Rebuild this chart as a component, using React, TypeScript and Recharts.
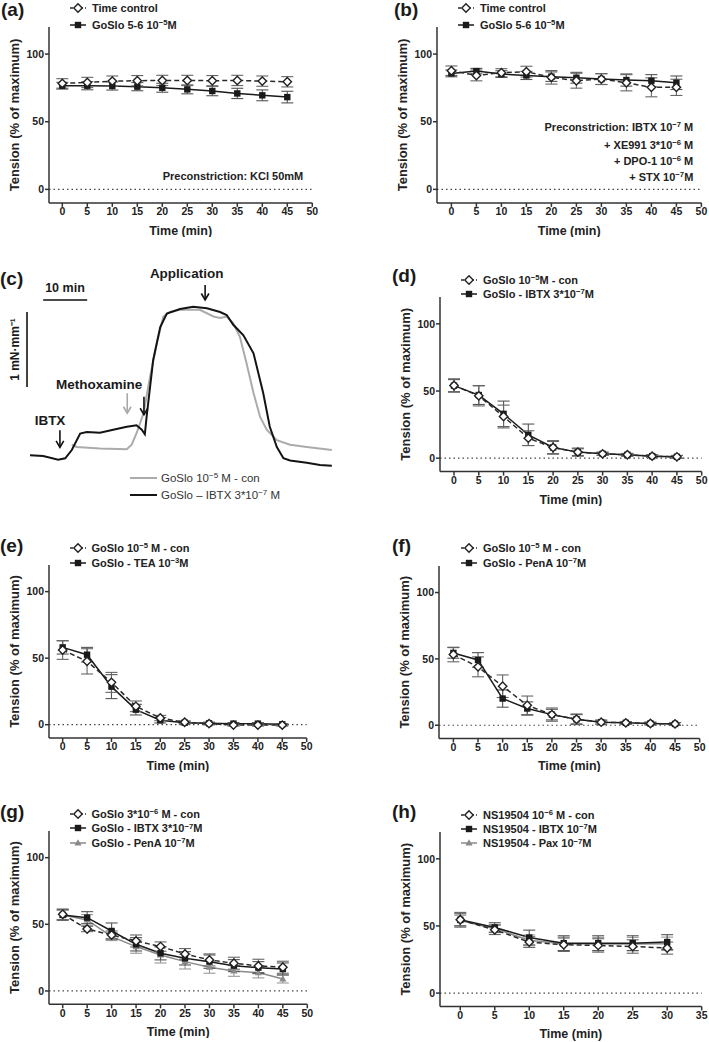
import React from "react";
import { LineChart, Line, XAxis, YAxis, ErrorBar, ReferenceLine, ReferenceDot, Legend } from "recharts";

const FONT = '"Liberation Sans", Arial, Helvetica, sans-serif';

// ---- shared axes ----
const TIME_45 = [0, 5, 10, 15, 20, 25, 30, 35, 40, 45];
const TIME_30 = [0, 5, 10, 15, 20, 25, 30];
const TICKS_50 = [0, 5, 10, 15, 20, 25, 30, 35, 40, 45, 50];
const TICKS_35 = [0, 5, 10, 15, 20, 25, 30, 35];
const Y_TICKS = [0, 50, 100];

// ---- (a) KCl preconstriction ----
const A_NAMES = ["Time control", "GoSlo 5-6 10^{−5}M"];
const A_CTRL = [78.3, 79, 80, 80.3, 80.5, 80.5, 80.3, 80.5, 80, 79.5];
const A_CTRL_SEM = [3.5, 3.8, 3.8, 3.8, 3.8, 3.8, 3.8, 3.8, 3.8, 3.8];
const A_GOSLO = [76.6, 76.6, 76.4, 75.9, 75.1, 73.9, 72.7, 70.9, 69.5, 68.2];
const A_GOSLO_SEM = [2.5, 3, 3, 3, 3.3, 3.3, 3.5, 3.8, 4, 4.3];

// ---- (b) IBTX/XE991/DPO-1/STX preconstriction ----
const B_NAMES = ["Time control", "GoSlo 5-6 10^{−5}M"];
const B_CTRL = [87.7, 84.2, 86.2, 87, 82.8, 80.3, 81.5, 78.8, 75.4, 75.4];
const B_CTRL_SEM = [3.5, 4, 3, 4, 5, 5.5, 4, 6, 7, 6];
const B_GOSLO = [85.7, 87.4, 85.2, 84.2, 83.3, 82.5, 81.5, 80.8, 80.3, 78.8];
const B_GOSLO_SEM = [2.5, 2, 2.5, 3, 3.5, 4, 4, 4.5, 4.5, 5];

// ---- (c) raw traces (min, mN/mm relative to baseline) ----
const TRACE_IBTX_T = [0, 3, 6.4, 8, 9.5, 11.4, 12.9, 15.9, 18.9, 22, 24.2, 25.4, 26.1, 26.5, 28, 29.6, 31.1, 34.1, 37.1, 40.2, 43.2, 44.7, 46.2, 48.5, 50.8, 53, 54.5, 56.1, 57.6, 59.1, 62.9, 65.9, 68.6];
const TRACE_IBTX_V = [0.03, 0.02, -0.03, -0.01, 0.1, 0.32, 0.34, 0.33, 0.37, 0.41, 0.43, 0.37, 0.31, 0.54, 1.3, 1.74, 1.92, 1.98, 2.01, 1.99, 1.94, 1.9, 1.77, 1.63, 1.39, 0.86, 0.41, 0.14, -0.01, -0.04, -0.07, -0.1, -0.11];
const TRACE_CON_T = [9.5, 10.6, 15.9, 22, 23.1, 24.2, 25.8, 27.3, 28.8, 30.3, 31.8, 34.1, 38.6, 41.7, 43.2, 44.7, 46.2, 47.7, 49.2, 50.8, 52.3, 53.8, 56.1, 59.1, 62.9, 68.6];
const TRACE_CON_V = [0.17, 0.14, 0.12, 0.11, 0.17, 0.32, 0.59, 1.08, 1.52, 1.88, 1.94, 1.97, 1.97, 1.88, 1.86, 1.88, 1.79, 1.61, 1.26, 0.86, 0.54, 0.37, 0.23, 0.17, 0.14, 0.1];
const C_NAMES = ["GoSlo 10^{−5} M - con", "GoSlo – IBTX 3*10^{−7} M"];

// ---- (d) IBTX ----
const D_NAMES = ["GoSlo 10^{−5}M - con", "GoSlo - IBTX 3*10^{−7}M"];
const D_CON = [54.1, 46.4, 31, 14.9, 7.9, 4.5, 3.2, 2.5, 1.5, 1];
const D_CON_SEM = [5, 7.5, 8.5, 5.5, 4.5, 2.5, 1.2, 1, 1, 1];
const D_IBTX = [54, 47, 33, 17.4, 8, 4.5, 3.2, 2.5, 1.5, 1];
const D_IBTX_SEM = [4.5, 7, 9.5, 8, 5, 3, 1.2, 1, 1, 1];

// ---- (e) TEA ----
const E_NAMES = ["GoSlo 10^{−5} M - con", "GoSlo - TEA 10^{−3}M"];
const E_CON = [56.1, 47.6, 31.8, 13.8, 5, 1.8, 0.8, -0.3, -0.3, -0.3];
const E_CON_SEM = [7, 9.5, 7.5, 4, 2, 1, 1, 0.8, 0.8, 0.8];
const E_TEA = [58.1, 52.6, 28.6, 11.3, 3.3, 1.5, 1, 0.8, 0.8, 0.3];
const E_TEA_SEM = [5, 5.5, 9, 4, 2, 1, 0.8, 0.8, 0.8, 0.5];

// ---- (f) PenA ----
const F_NAMES = ["GoSlo 10^{−5} M - con", "GoSlo - PenA 10^{−7}M"];
const F_CON = [53.3, 44, 29.4, 15, 8, 4.5, 2.3, 1.8, 1.3, 1];
const F_CON_SEM = [5.5, 7.5, 8.5, 7, 5, 4, 1.5, 1, 1, 1];
const F_PENA = [54.5, 49.2, 20.1, 12.6, 8, 4.5, 2.3, 1.8, 1.3, 1];
const F_PENA_SEM = [4, 5.5, 6.5, 5, 4, 3.5, 1.5, 1, 1, 1];

// ---- (g) GoSlo 3e-6 ----
const G_NAMES = ["GoSlo 3*10^{−6} M - con", "GoSlo - IBTX 3*10^{−7}M", "GoSlo - PenA 10^{−7}M"];
const G_CON = [57.5, 46.5, 42, 37.5, 33.3, 27.8, 23.3, 20.8, 18.8, 17.8];
const G_CON_SEM = [4, 2, 3, 4.5, 3.5, 4, 4.5, 4.5, 5, 4.5];
const G_IBTX = [57, 55, 45, 35, 28.3, 24.5, 22, 19, 17.5, 16.5];
const G_IBTX_SEM = [4, 4.5, 6, 5, 5, 5, 5, 4.5, 4.5, 4.5];
const G_PENA = [57, 53.3, 40.8, 33.3, 27, 22, 17.8, 15, 13.8, 9];
const G_PENA_SEM = [3.5, 4, 3, 5, 6, 5.5, 4.5, 4, 4, 3];

// ---- (h) NS19504 ----
const H_NAMES = ["NS19504 10^{−6} M - con", "NS19504 - IBTX 10^{−7}M", "NS19504 - Pax 10^{−7}M"];
const H_CON = [54.6, 47.1, 38, 36, 35.5, 34.7, 33.5];
const H_CON_SEM = [5.5, 3.5, 4, 5, 5, 5, 4.5];
const H_IBTX = [54.6, 48.9, 41.4, 37.2, 37.2, 37.2, 38];
const H_IBTX_SEM = [4.5, 3.5, 5.5, 5.5, 5.5, 5.5, 5.5];
const H_PAX = [54, 48, 39.3, 36.7, 36.5, 36.5, 36.7];
const H_PAX_SEM = [4, 3, 4, 5, 5, 5, 5];

type Kind = "con" | "blk" | "gray";
type Series = { name: string; kind: Kind; mean: number[]; sem: number[] };

const KIND_STYLE: Record<Kind, { stroke: string; dash?: string; err: string }> = {
  con: { stroke: "#2a2a2a", dash: "5 3", err: "#666" },
  blk: { stroke: "#1a1a1a", err: "#555" },
  gray: { stroke: "#8a8a8a", err: "#999" },
};

function Rich({ text }: { text: string }) {
  const parts = text.split(/\^\{([^}]*)\}/);
  return (
    <>
      {parts.map((p, i) =>
        i % 2 ? (
          <span key={i} style={{ fontSize: "0.7em", position: "relative", top: "-0.5em" }}>{p}</span>
        ) : (
          <span key={i}>{p}</span>
        )
      )}
    </>
  );
}

function Marker({ kind, cx, cy }: { kind: Kind; cx: number; cy: number }) {
  if (kind === "con")
    return <path d={`M${cx},${cy - 4.2}L${cx + 4.2},${cy}L${cx},${cy + 4.2}L${cx - 4.2},${cy}Z`} fill="#fff" stroke="#222" strokeWidth={1.4} />;
  if (kind === "blk") return <rect x={cx - 3.2} y={cy - 3.2} width={6.4} height={6.4} fill="#1a1a1a" />;
  return <path d={`M${cx},${cy - 3.8}L${cx + 3.6},${cy + 2.6}L${cx - 3.6},${cy + 2.6}Z`} fill="#8a8a8a" />;
}

function LegendRows({ series, rowH }: { series: Series[]; rowH: number }) {
  return (
    <div style={{ fontFamily: FONT, fontSize: 11, fontWeight: "bold", color: "#222" }}>
      {series.map((s) => (
        <div key={s.name} style={{ display: "flex", alignItems: "center", height: rowH, whiteSpace: "nowrap" }}>
          <svg width={16} height={10} style={{ overflow: "visible" }}>
            <line x1={0} y1={5} x2={16} y2={5} stroke={KIND_STYLE[s.kind].stroke} strokeWidth={1.5} strokeDasharray={s.kind === "con" ? "3 2" : undefined} />
            <Marker kind={s.kind} cx={8} cy={5} />
          </svg>
          <span style={{ marginLeft: 6 }}>
            <Rich text={s.name} />
          </span>
        </div>
      ))}
    </div>
  );
}

type Box = { left: number; top: number; width: number; height: number };
type PanelProps = {
  box: Box;
  xDomain: [number, number];
  xTicks: number[];
  time: number[];
  series: Series[];
  legend: { x: number; y: number; rowH: number };
};

const YW = 50;
const MT = 40;
const MR = 6;
const XH = 34;

function Panel({ box, xDomain, xTicks, time, series, legend }: PanelProps) {
  const rows = time.map((t, i) => {
    const r: Record<string, number> = { t };
    series.forEach((s, k) => {
      r[`m${k}`] = s.mean[i];
      r[`e${k}`] = s.sem[i];
    });
    return r;
  });
  const left = box.left - YW;
  const top = box.top - MT;
  const order = series.map((_, k) => k).reverse();
  const axisStyle = { stroke: "#333", strokeWidth: 1.5 };
  const tickStyle = { fill: "#222", fontSize: 10.5, fontWeight: "bold" };
  return (
    <div style={{ position: "absolute", left, top }}>
      <LineChart width={YW + box.width + MR} height={MT + box.height + XH} data={rows} margin={{ top: MT, right: MR, left: 0, bottom: 0 }}>
        <XAxis
          dataKey="t"
          type="number"
          domain={xDomain}
          ticks={xTicks}
          allowDataOverflow
          height={XH}
          tickSize={4}
          tickMargin={1}
          axisLine={axisStyle}
          tickLine={axisStyle}
          tick={tickStyle}
          label={{ value: "Time (min)", position: "insideBottom", offset: 2, fill: "#222", fontSize: 12.5, fontWeight: "bold" }}
        />
        <YAxis
          type="number"
          domain={[-10, 120]}
          ticks={Y_TICKS}
          allowDataOverflow
          width={YW}
          tickSize={4}
          tickMargin={1}
          axisLine={axisStyle}
          tickLine={axisStyle}
          tick={tickStyle}
          label={{ value: "Tension (% of maximum)", angle: -90, position: "insideLeft", offset: 15, fill: "#222", fontSize: 13, fontWeight: "bold", style: { textAnchor: "middle" } }}
        />
        <ReferenceLine y={0} stroke="#444" strokeWidth={1.2} strokeDasharray="1.5 3" />
        {order.map((k) => {
          const s = series[k];
          const st = KIND_STYLE[s.kind];
          return (
            <Line
              key={s.name}
              dataKey={`m${k}`}
              name={s.name}
              stroke={st.stroke}
              strokeWidth={1.5}
              strokeDasharray={st.dash}
              isAnimationActive={false}
              activeDot={false}
              dot={(p: any) => (
                <g key={`dot-${k}-${p.index}`}>
                  <Marker kind={s.kind} cx={p.cx} cy={p.cy} />
                </g>
              )}
            >
              <ErrorBar dataKey={`e${k}`} width={6} stroke={st.err} strokeWidth={1.1} />
            </Line>
          );
        })}
        <Legend
          layout="vertical"
          verticalAlign="middle"
          align="center"
          wrapperStyle={{ left: legend.x - left, top: legend.y - legend.rowH / 2 - top, width: "auto" }}
          content={() => <LegendRows series={series} rowH={legend.rowH} />}
        />
      </LineChart>
    </div>
  );
}

function Tag({ x, y, text }: { x: number; y: number; text: string }) {
  return (
    <div style={{ position: "absolute", left: x, top: Math.max(0, y - 2.3), fontSize: 19, lineHeight: "19px", fontWeight: "bold", color: "#1a1a1a" }}>
      {text}
    </div>
  );
}

function Note({ right, cy, text }: { right: number; cy: number; text: string }) {
  return (
    <div style={{ position: "absolute", left: right - 300, width: 300, top: cy - 6.5, textAlign: "right", fontSize: 11, lineHeight: "13px", fontWeight: "bold", color: "#222", whiteSpace: "nowrap" }}>
      <Rich text={text} />
    </div>
  );
}

const arrowShape = (len: number, color: string) => (p: any) => (
  <g>
    <line x1={p.cx} y1={p.cy - len} x2={p.cx} y2={p.cy} stroke={color} strokeWidth={1.6} />
    <polyline points={`${p.cx - 3.8},${p.cy - 6.5} ${p.cx},${p.cy} ${p.cx + 3.8},${p.cy - 6.5}`} fill="none" stroke={color} strokeWidth={1.6} />
  </g>
);

const textShape = (text: string, size: number, rotate = false) => (p: any) => (
  <g transform={rotate ? `rotate(-90 ${p.cx} ${p.cy})` : undefined}>
    <text x={p.cx} y={p.cy} textAnchor="middle" dominantBaseline="central" fontSize={size} fontWeight="bold" fill="#1a1a1a">
      {text}
    </text>
  </g>
);

function TraceLegend() {
  const colors = ["#ababab", "#141414"];
  return (
    <div style={{ fontFamily: FONT, fontSize: 11.5, color: "#333" }}>
      {C_NAMES.map((n, i) => (
        <div key={n} style={{ display: "flex", alignItems: "center", height: 17, whiteSpace: "nowrap" }}>
          <svg width={27} height={4}>
            <line x1={0} y1={2} x2={27} y2={2} stroke={colors[i]} strokeWidth={2} />
          </svg>
          <span style={{ marginLeft: 4 }}>
            <Rich text={n} />
          </span>
        </div>
      ))}
    </div>
  );
}

function TracePanel() {
  const ibtx = TRACE_IBTX_T.map((t, i) => ({ t, v: TRACE_IBTX_V[i] }));
  const con = TRACE_CON_T.map((t, i) => ({ t, v: TRACE_CON_V[i] }));
  return (
    <div style={{ position: "absolute", left: 0, top: 260 }}>
      <LineChart width={355} height={260} margin={{ top: 10, right: 17, bottom: 10, left: 12.4 }}>
        <XAxis type="number" dataKey="t" domain={[-4, 70]} hide allowDataOverflow />
        <YAxis type="number" domain={[-0.7, 2.5]} hide allowDataOverflow />
        <Line data={con} dataKey="v" stroke="#ababab" strokeWidth={2} dot={false} activeDot={false} isAnimationActive={false} />
        <Line data={ibtx} dataKey="v" stroke="#141414" strokeWidth={2} dot={false} activeDot={false} isAnimationActive={false} />
        <ReferenceLine segment={[{ x: 3, y: 2.1 }, { x: 13, y: 2.1 }]} stroke="#111" strokeWidth={1.6} />
        <ReferenceLine segment={[{ x: -0.68, y: 1.94 }, { x: -0.68, y: 0.94 }]} stroke="#111" strokeWidth={1.6} />
        <ReferenceDot x={7.95} y={2.26} r={0} shape={textShape("10 min", 12.5)} />
        <ReferenceDot x={-3.4} y={1.44} r={0} shape={textShape("1 mN·mm⁻¹", 12, true)} />
        <ReferenceDot x={6.8} y={0.136} r={0} shape={arrowShape(17, "#111")} />
        <ReferenceDot x={22.1} y={0.59} r={0} shape={arrowShape(20, "#a8a8a8")} />
        <ReferenceDot x={25.9} y={0.57} r={0} shape={arrowShape(18, "#111")} />
        <ReferenceDot x={39.8} y={2.1} r={0} shape={arrowShape(15, "#111")} />
        <ReferenceDot x={4.55} y={0.5} r={0} shape={textShape("IBTX", 13.5)} />
        <ReferenceDot x={15.7} y={0.976} r={0} shape={textShape("Methoxamine", 13.5)} />
        <ReferenceDot x={35.6} y={2.46} r={0} shape={textShape("Application", 13.5)} />
        <Legend layout="vertical" verticalAlign="middle" align="center" wrapperStyle={{ left: 130, top: 209.5, width: "auto" }} content={() => <TraceLegend />} />
      </LineChart>
    </div>
  );
}

const mk = (names: string[], kinds: Kind[], means: number[][], sems: number[][]): Series[] =>
  names.map((name, i) => ({ name, kind: kinds[i], mean: means[i], sem: sems[i] }));

export default function App() {
  return (
    <div style={{ position: "absolute", left: 0, top: 0, width: 709, height: 1042, overflow: "hidden", background: "#fff", fontFamily: FONT }}>
      <Panel
        box={{ left: 49, top: 26.9, width: 263.3, height: 175.9 }}
        xDomain={[-2.66, 50]}
        xTicks={TICKS_50}
        time={TIME_45}
        series={mk(A_NAMES, ["con", "blk"], [A_CTRL, A_GOSLO], [A_CTRL_SEM, A_GOSLO_SEM])}
        legend={{ x: 70, y: 7.5, rowH: 17 }}
      />
      <Panel
        box={{ left: 437.3, top: 26.9, width: 264.4, height: 175.9 }}
        xDomain={[-2.88, 50]}
        xTicks={TICKS_50}
        time={TIME_45}
        series={mk(B_NAMES, ["con", "blk"], [B_CTRL, B_GOSLO], [B_CTRL_SEM, B_GOSLO_SEM])}
        legend={{ x: 458, y: 7.5, rowH: 17 }}
      />
      <TracePanel />
      <Panel
        box={{ left: 440, top: 297.1, width: 261.7, height: 174.6 }}
        xDomain={[-2.83, 50]}
        xTicks={TICKS_50}
        time={TIME_45}
        series={mk(D_NAMES, ["con", "blk"], [D_CON, D_IBTX], [D_CON_SEM, D_IBTX_SEM])}
        legend={{ x: 461, y: 280, rowH: 14 }}
      />
      <Panel
        box={{ left: 49, top: 565.1, width: 257.7, height: 173 }}
        xDomain={[-2.8, 50]}
        xTicks={TICKS_50}
        time={TIME_45}
        series={mk(E_NAMES, ["con", "blk"], [E_CON, E_TEA], [E_CON_SEM, E_TEA_SEM])}
        legend={{ x: 69.5, y: 548.3, rowH: 15 }}
      />
      <Panel
        box={{ left: 439.3, top: 565.8, width: 260.7, height: 172.5 }}
        xDomain={[-2.92, 50]}
        xTicks={TICKS_50}
        time={TIME_45}
        series={mk(F_NAMES, ["con", "blk"], [F_CON, F_PENA], [F_CON_SEM, F_PENA_SEM])}
        legend={{ x: 461, y: 548.3, rowH: 14.4 }}
      />
      <Panel
        box={{ left: 49, top: 831, width: 258.3, height: 173.3 }}
        xDomain={[-2.8, 50]}
        xTicks={TICKS_50}
        time={TIME_45}
        series={mk(G_NAMES, ["con", "blk", "gray"], [G_CON, G_IBTX, G_PENA], [G_CON_SEM, G_IBTX_SEM, G_PENA_SEM])}
        legend={{ x: 69.5, y: 814.3, rowH: 14.2 }}
      />
      <Panel
        box={{ left: 440, top: 832.2, width: 261.7, height: 174.5 }}
        xDomain={[-2.94, 35]}
        xTicks={TICKS_35}
        time={TIME_30}
        series={mk(H_NAMES, ["con", "blk", "gray"], [H_CON, H_IBTX, H_PAX], [H_CON_SEM, H_IBTX_SEM, H_PAX_SEM])}
        legend={{ x: 461, y: 815, rowH: 14.2 }}
      />
      <Note right={303.3} cy={176.7} text="Preconstriction: KCl 50mM" />
      <Note right={693.3} cy={127.7} text="Preconstriction: IBTX 10^{−7} M" />
      <Note right={693.3} cy={145} text="+ XE991 3*10^{−6} M" />
      <Note right={693.3} cy={161.3} text="+ DPO-1 10^{−6} M" />
      <Note right={693.3} cy={177.7} text="+ STX 10^{−7}M" />
      <Tag x={1} y={0} text="(a)" />
      <Tag x={394} y={0} text="(b)" />
      <Tag x={0} y={271.7} text="(c)" />
      <Tag x={392} y={268.3} text="(d)" />
      <Tag x={0} y={538} text="(e)" />
      <Tag x={392} y={538} text="(f)" />
      <Tag x={0} y={804} text="(g)" />
      <Tag x={392} y={804} text="(h)" />
    </div>
  );
}
